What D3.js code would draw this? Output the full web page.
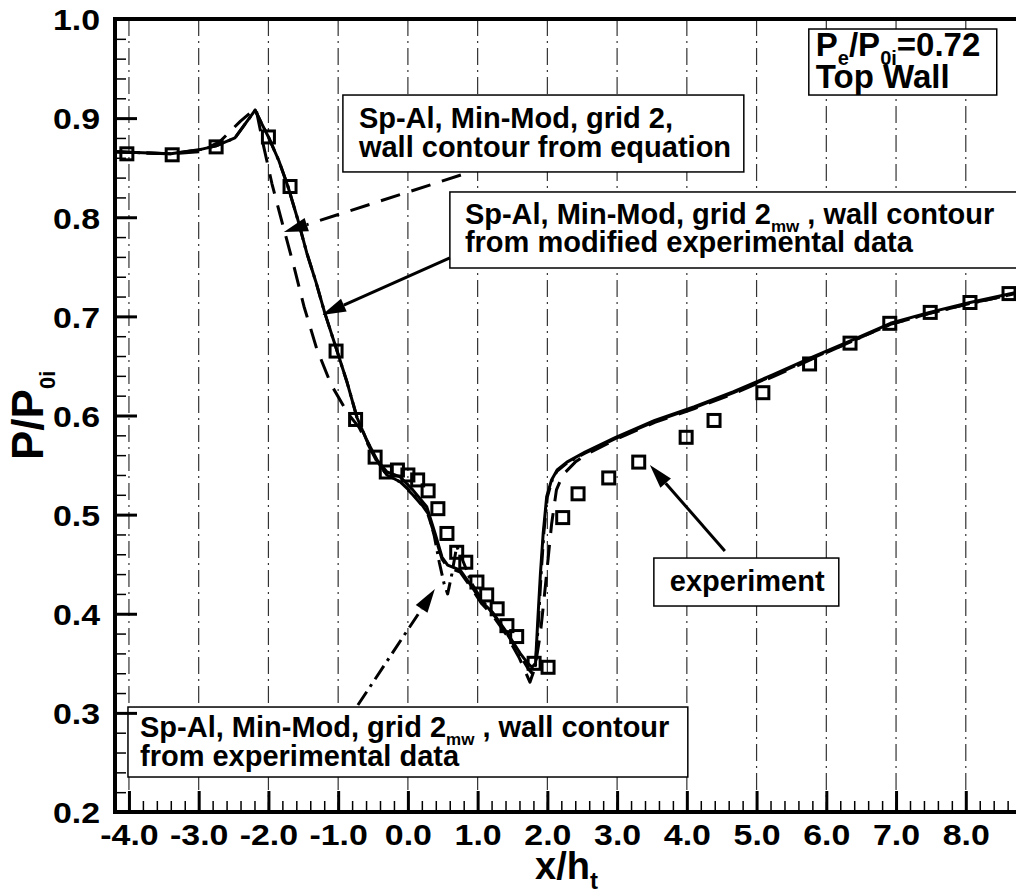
<!DOCTYPE html>
<html>
<head>
<meta charset="utf-8">
<script src="https://cdn.jsdelivr.net/npm/d3@7/dist/d3.min.js"></script>
<style>
body { margin: 0; background: #fff; }
text { font-family: "Liberation Sans", Arial, Helvetica, sans-serif; font-weight: bold; fill: #000; white-space: pre; }
</style>
</head>
<body>
<svg width="1016" height="896"></svg>
<script>
// experiment (squares)
let expX = [-4.03, -3.38, -2.75, -2.0, -1.69, -1.03, -0.75, -0.47, -0.31, -0.15, 0.0, 0.14, 0.29, 0.43, 0.56, 0.70, 0.83, 0.99,
            1.13, 1.28, 1.42, 1.56, 1.81, 2.01, 2.22, 2.44, 2.88, 3.31, 3.99, 4.39, 5.09, 5.76, 6.34, 6.91, 7.49, 8.06, 8.62];
let expY = [0.864, 0.863, 0.871, 0.881, 0.831, 0.665, 0.596, 0.558, 0.543, 0.545, 0.540, 0.535, 0.524, 0.506, 0.481, 0.462, 0.452, 0.432,
            0.419, 0.405, 0.388, 0.377, 0.350, 0.346, 0.497, 0.521, 0.537, 0.553, 0.578, 0.595, 0.623, 0.652, 0.673, 0.693, 0.704, 0.714, 0.723];

// grid 2mw, wall contour from modified experimental data (solid)
let solidX = [-4.2, -3.8, -3.4, -3.0, -2.75, -2.48, -2.19, -2.1, -2.0, -1.85, -1.72, -1.58, -1.45, -1.32, -1.19, -1.02, -0.87, -0.73, -0.59,
              -0.44, -0.30, -0.11, 0.07, 0.27, 0.39, 0.49, 0.57, 0.75, 0.92, 1.06, 1.22, 1.42, 1.61, 1.72, 1.78, 1.83, 1.86, 1.90, 1.94,
              1.99, 2.06, 2.14, 2.28, 2.54, 2.98, 3.54, 4.11, 4.67, 5.23, 5.80, 6.37, 6.92, 7.48, 8.06, 8.72];
let solidY = [0.866, 0.865, 0.864, 0.868, 0.872, 0.880, 0.908, 0.895, 0.881, 0.857, 0.831, 0.798, 0.764, 0.735, 0.703, 0.666, 0.633, 0.598, 0.575,
              0.555, 0.543, 0.538, 0.525, 0.508, 0.481, 0.457, 0.449, 0.444, 0.427, 0.412, 0.401, 0.381, 0.360, 0.350, 0.346, 0.350, 0.390, 0.440, 0.481,
              0.518, 0.535, 0.545, 0.553, 0.563, 0.578, 0.595, 0.609, 0.624, 0.641, 0.659, 0.676, 0.693, 0.704, 0.714, 0.724];

// grid 2, wall contour from equation (dashed)
let dashX = [-4.2, -3.8, -3.4, -3.0, -2.7, -2.4, -2.18, -2.07, -1.95, -1.82, -1.64, -1.49, -1.31, -1.10, -0.85, -0.70, -0.44, -0.30, -0.11,
             0.07, 0.27, 0.39, 0.49, 0.57, 0.75, 0.92, 1.06, 1.22, 1.42, 1.60, 1.75, 1.82, 1.90, 1.96, 2.01, 2.06, 2.13, 2.22, 2.40, 2.54,
             2.98, 3.54, 4.11, 4.67, 5.23, 5.80, 6.37, 6.92, 7.48, 8.06, 8.72];
let dashY = [0.866, 0.865, 0.864, 0.866, 0.876, 0.897, 0.910, 0.872, 0.834, 0.799, 0.752, 0.710, 0.668, 0.631, 0.601, 0.588, 0.553, 0.540, 0.533,
             0.520, 0.504, 0.478, 0.455, 0.447, 0.442, 0.425, 0.410, 0.398, 0.378, 0.355, 0.331, 0.345, 0.380, 0.420, 0.455, 0.490, 0.525, 0.540, 0.553, 0.560,
             0.576, 0.593, 0.607, 0.622, 0.639, 0.657, 0.675, 0.692, 0.703, 0.713, 0.723];

// grid 2mw, wall contour from experimental data (dash-dot)
let dotX = [-4.2, -3.8, -3.4, -3.0, -2.75, -2.48, -2.19, -2.1, -2.0, -1.85, -1.72, -1.58, -1.45, -1.32, -1.19, -1.02, -0.87, -0.73, -0.59,
            -0.44, -0.30, -0.11, 0.07, 0.20, 0.30, 0.38, 0.45, 0.52, 0.57, 0.63, 0.70, 0.78, 0.92, 1.06, 1.22, 1.42, 1.61, 1.72, 1.78,
            1.83, 1.87, 1.91, 1.95, 2.0, 2.07, 2.14, 2.28, 2.54, 2.98, 3.54, 4.11, 4.67, 5.23, 5.80, 6.37, 6.92, 7.48, 8.06, 8.72];
let dotY = [0.866, 0.865, 0.864, 0.868, 0.872, 0.880, 0.908, 0.895, 0.881, 0.857, 0.831, 0.798, 0.764, 0.735, 0.703, 0.666, 0.633, 0.598, 0.575,
            0.554, 0.540, 0.533, 0.521, 0.510, 0.500, 0.478, 0.452, 0.430, 0.420, 0.440, 0.468, 0.455, 0.430, 0.414, 0.400, 0.380, 0.358, 0.345, 0.340,
            0.348, 0.390, 0.440, 0.482, 0.518, 0.535, 0.544, 0.552, 0.562, 0.577, 0.594, 0.608, 0.623, 0.640, 0.658, 0.675, 0.692, 0.703, 0.713, 0.723];

let xTicks = [-4, -3, -2, -1, 0, 1, 2, 3, 4, 5, 6, 7, 8];
let yTicks = [0.2, 0.3, 0.4, 0.5, 0.6, 0.7, 0.8, 0.9, 1.0];

let svg = d3.select("svg");
let x = d3.scaleLinear().domain([-4.2, 8.72]).range([115, 1016]);
let y = d3.scaleLinear().domain([0.2, 1.0]).range([812, 19]);

svg.append('clipPath').attr('id', 'plot')
    .append('rect').attr('x', x(-4.2)).attr('y', y(1.0)).attr('width', x(8.72) - x(-4.2)).attr('height', y(0.2) - y(1.0));

// vertical grid
svg.append('g').selectAll('line').data(xTicks).enter().append('line')
    .attr('x1', function(d) {return x(d)}).attr('x2', function(d) {return x(d)})
    .attr('y1', y(1.0)).attr('y2', y(0.2))
    .attr('stroke', '#333').attr('stroke-width', 1.2).attr('stroke-dasharray', '17,5,2,5');

// text boxes (white fill hides grid)
let notes = [
    {x0: -0.932, x1: 4.817, y0: 0.9233, y1: 0.8457, size: 29, tx: 16, lines: [
        {dy: 33, segs: ['Sp-Al, Min-Mod, grid 2,']},
        {dy: 62, segs: ['wall contour from equation']}]},
    {x0: 0.602, x1: 8.80, y0: 0.8255, y1: 0.7488, size: 29, tx: 15, lines: [
        {dy: 32, segs: ['Sp-Al, Min-Mod, grid 2', {sub: 'mw'}, ' , wall contour']},
        {dy: 60, segs: ['from modified experimental data']}]},
    {x0: 5.749, x1: 8.444, y0: 0.9899, y1: 0.9233, size: 33, tx: 7, lines: [
        {dy: 27, segs: ['P', {sub: 'e'}, '/P', {sub: '0i'}, '=0.72']},
        {dy: 59, segs: ['Top Wall']}]},
    {x0: 3.527, x1: 6.179, y0: 0.4562, y1: 0.4078, size: 29, tx: 16, lines: [
        {dy: 33, segs: ['experiment']}]},
    {x0: -4.014, x1: 4.014, y0: 0.3059, y1: 0.2353, size: 29, tx: 12, lines: [
        {dy: 30, segs: ['Sp-Al, Min-Mod, grid 2', {sub: 'mw'}, ' , wall contour']},
        {dy: 59, segs: ['from experimental data']}]},
];

for (let n of notes) {
    let bx = x(n.x0), by = y(n.y0);
    svg.append('rect').attr('x', bx).attr('y', by)
        .attr('width', x(n.x1) - bx).attr('height', y(n.y1) - by)
        .attr('fill', 'white').attr('stroke', 'black').attr('stroke-width', 1.5);
    for (let ln of n.lines) {
        let t = svg.append('text').attr('x', bx + n.tx).attr('y', by + ln.dy).attr('font-size', n.size);
        let shift = 0;
        for (let s of ln.segs) {
            if (typeof s === 'string') {
                t.append('tspan').attr('dy', -shift).text(s);
                shift = 0;
            } else {
                let d = Math.round(n.size * 0.27);
                t.append('tspan').attr('dy', d - shift).attr('font-size', Math.round(n.size * 0.6)).text(s.sub);
                shift = d;
            }
        }
    }
}

// curves
let line = d3.line().x(function(d) {return x(d[0])}).y(function(d) {return y(d[1])});
let curves = [
    {xs: dashX, ys: dashY, dash: '20,12'},
    {xs: dotX, ys: dotY, dash: '16,6,3,6'},
    {xs: solidX, ys: solidY, dash: null},
];
let cg = svg.append('g').attr('clip-path', 'url(#plot)');
for (let c of curves) {
    cg.append('path').datum(d3.zip(c.xs, c.ys)).attr('d', line)
        .attr('fill', 'none').attr('stroke', 'black').attr('stroke-width', 3)
        .attr('stroke-linejoin', 'round')
        .attr('stroke-dasharray', c.dash);
}

// experiment squares
cg.selectAll('rect.exp').data(d3.zip(expX, expY)).enter().append('rect')
    .attr('class', 'exp')
    .attr('x', function(d) {return x(d[0]) - 6}).attr('y', function(d) {return y(d[1]) - 6})
    .attr('width', 12).attr('height', 12)
    .attr('fill', 'none').attr('stroke', 'black').attr('stroke-width', 3);

// leader arrows
let arrows = [
    {from: [0.760, 0.8426], to: [-1.778, 0.7851], dash: '20,12'},
    {from: [0.602, 0.7589], to: [-1.233, 0.7014], dash: null},
    {from: [-0.717, 0.3079], to: [0.387, 0.425], dash: '16,6,3,6'},
    {from: [4.545, 0.4633], to: [3.470, 0.550], dash: null},
];
for (let a of arrows) {
    let x1 = x(a.from[0]), y1 = y(a.from[1]), x2 = x(a.to[0]), y2 = y(a.to[1]);
    let ang = Math.atan2(y2 - y1, x2 - x1), L = 24, W = 7;
    let hx = x2 - L * Math.cos(ang), hy = y2 - L * Math.sin(ang);
    svg.append('line').attr('x1', x1).attr('y1', y1).attr('x2', hx).attr('y2', hy)
        .attr('stroke', 'black').attr('stroke-width', 3).attr('stroke-dasharray', a.dash);
    svg.append('path')
        .attr('d', 'M' + x2 + ',' + y2 + 'L' + (hx + W * Math.sin(ang)) + ',' + (hy - W * Math.cos(ang)) +
                   'L' + (hx - W * Math.sin(ang)) + ',' + (hy + W * Math.cos(ang)) + 'Z')
        .attr('fill', 'black');
}

// axes
let fmt = function(d) {return d.toFixed(1)};
let xMinor = d3.range(-21, 44).filter(function(i) {return i % 5 != 0}).map(function(i) {return i / 5});
let yMinor = d3.range(10, 51).filter(function(i) {return i % 5 != 0}).map(function(i) {return i / 50});
let stretch = 1.13;

let gxm = svg.append('g').attr('transform', 'translate(0,' + y(0.2) + ')')
    .call(d3.axisBottom(x).tickValues(xMinor).tickSize(-11).tickFormat(''));
let gx = svg.append('g').attr('transform', 'translate(0,' + y(0.2) + ')')
    .call(d3.axisBottom(x).tickValues(xTicks).tickSize(-21).tickPadding(12).tickFormat(fmt));
let gym = svg.append('g').attr('transform', 'translate(' + x(-4.2) + ',0)')
    .call(d3.axisLeft(y).tickValues(yMinor).tickSize(-11).tickFormat(''));
let gy = svg.append('g').attr('transform', 'translate(' + x(-4.2) + ',0)')
    .call(d3.axisLeft(y).tickValues(yTicks).tickSize(-22).tickPadding(15).tickFormat(fmt));

for (let g of [gxm, gx, gym, gy]) {
    g.select('.domain').remove();
    g.attr('font-size', 30);
}
gxm.selectAll('line').attr('stroke-width', 1.5);
gym.selectAll('line').attr('stroke-width', 1.5);
gx.selectAll('line').attr('stroke-width', 3);
gy.selectAll('line').attr('stroke-width', 3);
gx.selectAll('text').attr('transform', 'scale(' + stretch + ',1)');
gy.selectAll('text').attr('dy', '0.36em').attr('x', -15 / stretch).attr('transform', 'scale(' + stretch + ',1)');

// frame
svg.append('path')
    .attr('d', 'M1016,' + y(1.0) + 'H' + x(-4.2) + 'V' + y(0.2) + 'H1016')
    .attr('fill', 'none').attr('stroke', 'black').attr('stroke-width', 4);

// axis titles
let xt = svg.append('text').attr('x', 535).attr('y', 879).attr('font-size', 38);
xt.append('tspan').text('x/h');
xt.append('tspan').attr('dy', 10).attr('font-size', 24).text('t');

let yt = svg.append('text').attr('transform', 'translate(43,460) rotate(-90)').attr('font-size', 44);
yt.append('tspan').text('P/P');
yt.append('tspan').attr('dy', 12).attr('font-size', 22).text('0i');
</script>
</body>
</html>
